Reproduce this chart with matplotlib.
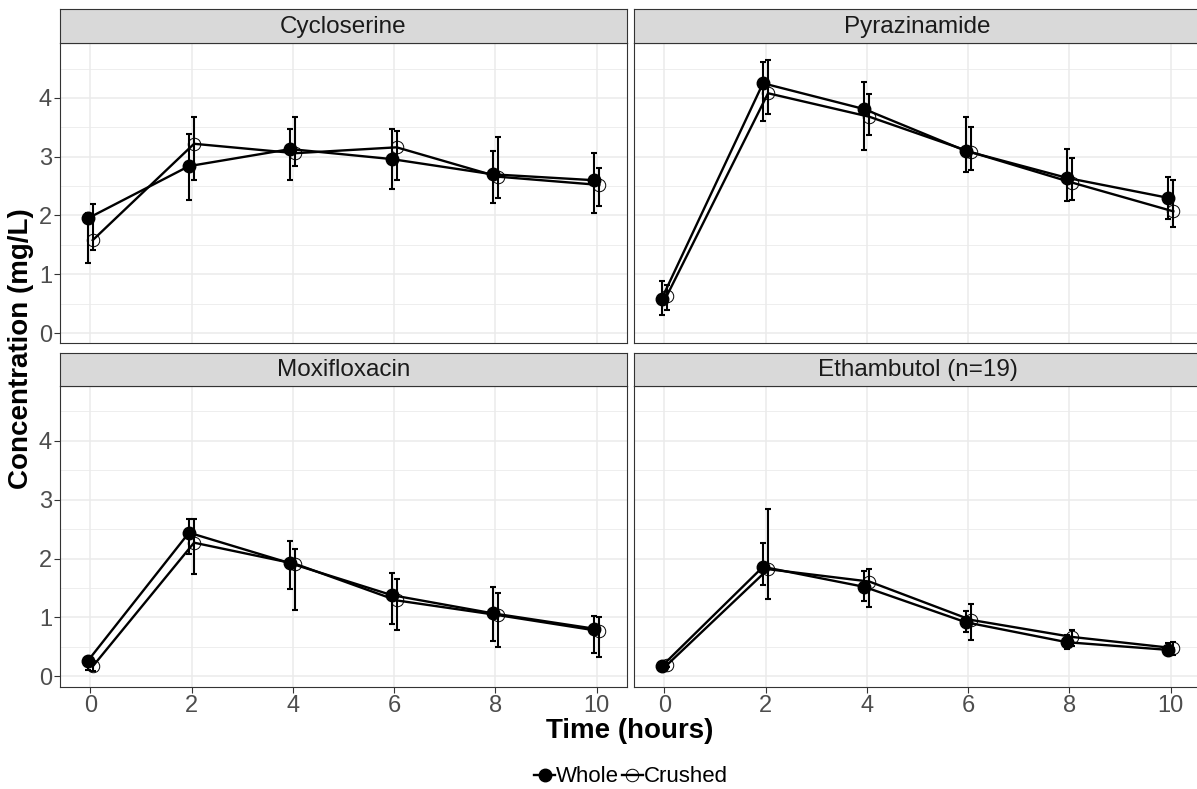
import matplotlib
matplotlib.use("Agg")
import matplotlib.pyplot as plt
from matplotlib.lines import Line2D
import numpy as np

plt.rcParams['font.family'] = ['Liberation Sans', 'DejaVu Sans']

times = [0, 2, 4, 6, 8, 10]
drugs = ["Cycloserine", "Pyrazinamide", "Moxifloxacin", "Ethambutol (n=19)"]

# Cycloserine
cyc_whole = [1.95, 2.84, 3.13, 2.96, 2.70, 2.60]
cyc_whole_lo = [1.19, 2.26, 2.60, 2.45, 2.22, 2.04]
cyc_whole_hi = [2.05, 3.38, 3.48, 3.48, 3.10, 3.06]
cyc_crushed = [1.58, 3.22, 3.06, 3.16, 2.66, 2.52]
cyc_crushed_lo = [1.41, 2.60, 2.84, 2.61, 2.29, 2.16]
cyc_crushed_hi = [2.19, 3.67, 3.67, 3.44, 3.33, 2.80]

# Pyrazinamide
pza_whole = [0.58, 4.25, 3.81, 3.10, 2.64, 2.30]
pza_whole_lo = [0.31, 3.61, 3.11, 2.74, 2.25, 1.94]
pza_whole_hi = [0.89, 4.61, 4.27, 3.67, 3.13, 2.66]
pza_crushed = [0.63, 4.08, 3.68, 3.08, 2.56, 2.07]
pza_crushed_lo = [0.40, 3.73, 3.37, 2.78, 2.26, 1.81]
pza_crushed_hi = [0.82, 4.65, 4.06, 3.50, 2.97, 2.61]

# Moxifloxacin
mox_whole = [0.26, 2.44, 1.92, 1.38, 1.07, 0.81]
mox_whole_lo = [0.11, 2.08, 1.48, 0.89, 0.60, 0.39]
mox_whole_hi = [0.33, 2.67, 2.30, 1.75, 1.51, 1.03]
mox_crushed = [0.17, 2.27, 1.91, 1.29, 1.04, 0.77]
mox_crushed_lo = [0.09, 1.73, 1.12, 0.79, 0.50, 0.33]
mox_crushed_hi = [0.24, 2.67, 2.16, 1.65, 1.42, 1.00]

# Ethambutol
emb_whole = [0.17, 1.86, 1.52, 0.92, 0.58, 0.45]
emb_whole_lo = [0.14, 1.56, 1.28, 0.75, 0.47, 0.36]
emb_whole_hi = [0.20, 2.27, 1.79, 1.11, 0.70, 0.56]
emb_crushed = [0.19, 1.82, 1.61, 0.96, 0.67, 0.48]
emb_crushed_lo = [0.16, 1.31, 1.18, 0.61, 0.51, 0.36]
emb_crushed_hi = [0.22, 2.85, 1.83, 1.23, 0.79, 0.58]

panel_data = [
    (cyc_whole, cyc_whole_lo, cyc_whole_hi, cyc_crushed, cyc_crushed_lo, cyc_crushed_hi),
    (pza_whole, pza_whole_lo, pza_whole_hi, pza_crushed, pza_crushed_lo, pza_crushed_hi),
    (mox_whole, mox_whole_lo, mox_whole_hi, mox_crushed, mox_crushed_lo, mox_crushed_hi),
    (emb_whole, emb_whole_lo, emb_whole_hi, emb_crushed, emb_crushed_lo, emb_crushed_hi),
]

W, H = 1197, 789
fig = plt.figure(figsize=(W / 100, H / 100), dpi=100)

def fx(px):
    return px / W

def fy(py):
    return 1 - py / H

col_x = [(60.3, 626.7), (634.3, 1200.7)]
row_panel = [(43.3, 343.3), (386.0, 686.7)]
row_strip = [(9.3, 43.3), (352.7, 386.0)]

dodge = 0.05
grid_c = "#EBEBEB"
border_c = "#333333"
ms = 9

for i, name in enumerate(drugs):
    r, c = divmod(i, 2)
    x0, x1 = col_x[c]
    py0, py1 = row_panel[r]
    ax = fig.add_axes([fx(x0), fy(py1), fx(x1 - x0), (py1 - py0) / H])
    sy0, sy1 = row_strip[r]
    sax = fig.add_axes([fx(x0), fy(sy1), fx(x1 - x0), (sy1 - sy0) / H])
    sax.set_facecolor("#D9D9D9")
    sax.set_xticks([]); sax.set_yticks([])
    for sp in sax.spines.values():
        sp.set_color(border_c); sp.set_linewidth(0.8)
    sax.text(0.5, 0.47, name, ha="center", va="center", fontsize=17.5,
             color="#1A1A1A", transform=sax.transAxes)

    wm, wl, wh, cm, cl, ch = panel_data[i]
    t = np.array(times, dtype=float)
    wm, wl, wh = map(np.array, (wm, wl, wh))
    cm, cl, ch = map(np.array, (cm, cl, ch))

    ax.errorbar(t - dodge, wm, yerr=[wm - wl, wh - wm], fmt="none",
                ecolor="black", elinewidth=1.5, capsize=2.4, capthick=1.5, zorder=3)
    ax.errorbar(t + dodge, cm, yerr=[cm - cl, ch - cm], fmt="none",
                ecolor="black", elinewidth=1.5, capsize=2.4, capthick=1.5, zorder=3)
    ax.plot(t - dodge, wm, color="black", lw=1.7, marker="o", ms=ms,
            mfc="black", mec="black", zorder=4)
    ax.plot(t + dodge, cm, color="black", lw=1.7, marker="o", ms=ms,
            mfc="none", mec="black", mew=0.7, zorder=4)

    ax.set_xlim(-0.59, 10.59)
    ax.set_ylim(-0.175, 4.93)
    ax.set_xticks(times)
    ax.set_yticks([0, 1, 2, 3, 4])
    ax.set_yticks([0.5, 1.5, 2.5, 3.5, 4.5], minor=True)
    ax.grid(True, which="major", axis="both", color=grid_c, lw=1.1, zorder=0)
    ax.grid(True, which="minor", axis="y", color=grid_c, lw=0.6, zorder=0)
    ax.set_axisbelow(True)
    for sp in ax.spines.values():
        sp.set_color(border_c); sp.set_linewidth(0.8)
    ax.tick_params(which="minor", length=0)
    ax.tick_params(which="major", length=4, width=0.8, color=border_c,
                   labelsize=17, labelcolor="#4D4D4D", pad=2)
    if r == 0:
        ax.tick_params(axis="x", length=0, labelbottom=False)
    if c == 1:
        ax.tick_params(axis="y", length=0, labelleft=False)

fig.text(fx(630), fy(731), "Time (hours)", ha="center", va="center",
         fontsize=20, fontweight="bold", color="black")
fig.text(fx(21), fy(349), "Concentration (mg/L)", ha="center", va="center",
         rotation=90, fontsize=20, fontweight="bold", color="black")

handles = [
    Line2D([0], [0], color="black", lw=1.7, marker="o", ms=ms, mfc="black", mec="black"),
    Line2D([0], [0], color="black", lw=1.7, marker="o", ms=ms, mfc="none", mec="black", mew=0.7),
]
fig.legend(handles, ["Whole", "Crushed"], loc="center", bbox_to_anchor=(fx(631), fy(777)),
           ncol=2, frameon=False, fontsize=16, handlelength=0.95,
           handletextpad=0.05, columnspacing=0.1, borderpad=0, borderaxespad=0)

fig.savefig("out.png", dpi=100)
